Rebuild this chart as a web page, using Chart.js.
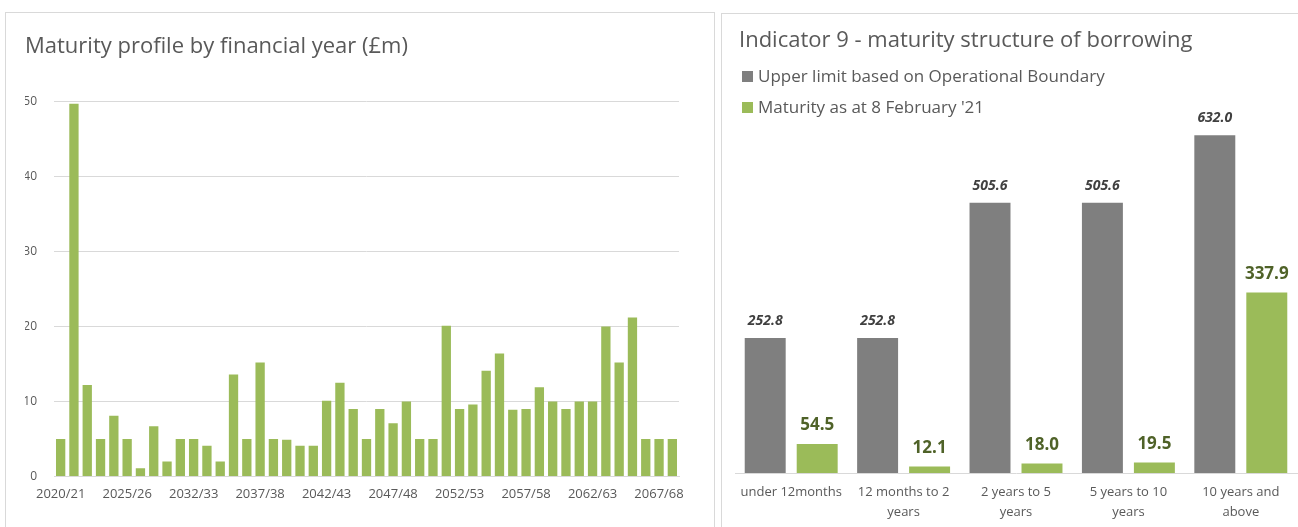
<!DOCTYPE html>
<html>
<head>
<meta charset="utf-8">
<title>Maturity profile and indicator 9</title>
<script src="https://cdn.jsdelivr.net/npm/chart.js@4.4.0/dist/chart.umd.min.js"></script>
<style>
    body { margin: 0; width: 1298px; height: 527px; overflow: hidden; position: relative; background: #fff; font-family: 'Open Sans', sans-serif; }
    .panel { position: absolute; border: 1px solid #d9d9d9; border-bottom: none; box-sizing: border-box; }
    #profilePanel { left: 5px; top: 12px; width: 710px; height: 520px; }
    #indicatorPanel { left: 721px; top: 13px; width: 590px; height: 520px; border-right: none; }
    canvas { position: absolute; }
    #profileChart { left: 6px; top: 13px; }
    #indicatorChart { left: 722px; top: 14px; }
    .chart-title { position: absolute; left: 739px; top: 25px; font-size: 22px; line-height: 26px; color: #595959; white-space: nowrap; }
    .legend-row { position: absolute; left: 742px; font-size: 17px; line-height: 20px; color: #595959; white-space: nowrap; }
    .legend-row span { display: inline-block; width: 11px; height: 11px; margin-right: 5px; }
</style>
</head>
<body>
<div class="panel" id="profilePanel"></div>
<div class="panel" id="indicatorPanel"></div>
<canvas id="profileChart" width="707" height="524"></canvas>
<canvas id="indicatorChart" width="576" height="524"></canvas>
<div class="chart-title">Indicator 9 - maturity structure of borrowing</div>
<div id="legend"></div>
<script>
// ============= data =====================
const years = ['2020/21', '2021/22', '2022/23', '2023/24', '2024/25', '2025/26', '2026/27', '2027/28',
    '2029/30', '2031/32', '2032/33', '2033/34', '2034/35', '2035/36', '2036/37', '2037/38', '2038/39',
    '2039/40', '2040/41', '2041/42', '2042/43', '2043/44', '2044/45', '2045/46', '2046/47', '2047/48',
    '2048/49', '2049/50', '2050/51', '2051/52', '2052/53', '2053/54', '2054/55', '2055/56', '2056/57',
    '2057/58', '2058/59', '2059/60', '2060/61', '2061/62', '2062/63', '2063/64', '2064/65', '2065/66',
    '2066/67', '2067/68', '2068/69'];
const maturityProfile = [5, 49.7, 12.2, 5, 8.1, 5, 1.1, 6.7, 2, 5, 5, 4.1, 2, 13.6, 5, 15.2, 5, 4.9,
    4.1, 4.1, 10.1, 12.5, 9, 5, 9, 7.1, 10, 5, 5, 20.1, 9, 9.6, 14.1, 16.4, 8.9, 9, 11.9, 10, 9, 10, 10,
    20, 15.2, 21.2, 5, 5, 5];
const profileTicks = [0, 10, 20, 30, 40, 50];

const bands = ['under 12months', ['12 months to 2', 'years'], ['2 years to 5', 'years'],
    ['5 years to 10', 'years'], ['10 years and', 'above']];
const upperLimit = [252.8, 252.8, 505.6, 505.6, 632.0];
const maturityFeb21 = [54.5, 12.1, 18.0, 19.5, 337.9];
const seriesNames = ['Upper limit based on Operational Boundary', "Maturity as at 8 February '21"];
// ============= end of data ==============

document.addEventListener('DOMContentLoaded', function () {
    (function () {
        Chart.defaults.font.family = "'Open Sans', sans-serif";

// ============= value labels over the bars =====================
        const valueLabels = {
            id: 'valueLabels',
            afterDatasetsDraw(chart, args, opts) {
                const ctx = chart.ctx;
                chart.data.datasets.forEach((ds, i) => {
                    const style = opts.styles[i];
                    if (!style) return;
                    ctx.save();
                    ctx.font = style.font;
                    ctx.fillStyle = style.color;
                    ctx.textAlign = 'center';
                    ctx.textBaseline = 'middle';
                    chart.getDatasetMeta(i).data.forEach((bar, j) => {
                        ctx.fillText(ds.data[j].toFixed(1), bar.x, bar.y - style.offset);
                    });
                    ctx.restore();
                });
            }
        };

// ============= maturity profile chart =====================
        new Chart(document.getElementById('profileChart'), {
            type: 'bar',
            data: {
                labels: years,
                datasets: [{
                    data: maturityProfile,
                    backgroundColor: '#9bbb59',
                    barPercentage: 0.7,
                    categoryPercentage: 1
                }]
            },
            options: {
                responsive: false,
                animation: false,
                layout: { padding: { left: 19, right: 34, top: 0, bottom: 25 } },
                plugins: {
                    legend: { display: false },
                    tooltip: { enabled: false },
                    title: {
                        display: true,
                        text: 'Maturity profile by financial year (£m)',
                        align: 'start',
                        color: '#595959',
                        font: { size: 22, weight: 'normal' },
                        padding: { top: 21, bottom: 41 }
                    }
                },
                scales: {
                    x: {
                        grid: { display: false, drawTicks: false },
                        border: { color: '#d9d9d9' },
                        ticks: {
                            autoSkip: false,
                            maxRotation: 0,
                            padding: 10,
                            color: '#595959',
                            font: { size: 13 },
                            callback: function (value, index) {
                                return index % 5 === 0 ? this.getLabelForValue(value) : '';
                            }
                        }
                    },
                    y: {
                        min: 0,
                        max: 50,
                        afterBuildTicks: scale => { scale.ticks = profileTicks.map(v => ({ value: v })); },
                        afterFit: scale => { scale.width = 29; },
                        grid: { color: '#d9d9d9', drawTicks: false },
                        border: { display: false },
                        ticks: { padding: 17, color: '#595959', font: { size: 12 } }
                    }
                }
            }
        });
// ============= end of maturity profile ==============

// ============= indicator 9 chart =====================
        const indicator = new Chart(document.getElementById('indicatorChart'), {
            type: 'bar',
            data: {
                labels: bands,
                datasets: [
                    { label: seriesNames[0], data: upperLimit, backgroundColor: '#7f7f7f' },
                    { label: seriesNames[1], data: maturityFeb21, backgroundColor: '#9bbb59' }
                ]
            },
            options: {
                responsive: false,
                animation: false,
                datasets: { bar: { barPercentage: 0.788, categoryPercentage: 0.925 } },
                layout: { padding: { left: 13, right: 1, top: 85, bottom: 6 } },
                plugins: {
                    legend: { display: false },
                    tooltip: { enabled: false },
                    valueLabels: {
                        styles: [
                            { font: "italic bold 14px 'Open Sans'", color: '#404040', offset: 17 },
                            { font: "bold 17px 'Open Sans'", color: '#4f6228', offset: 18.5 }
                        ]
                    }
                },
                scales: {
                    x: {
                        grid: { display: false, drawTicks: false },
                        border: { color: '#d9d9d9' },
                        ticks: {
                            autoSkip: false,
                            maxRotation: 0,
                            padding: 10,
                            color: '#595959',
                            font: { size: 13, lineHeight: 1.5 }
                        }
                    },
                    y: { display: false, min: 0, max: 700 }
                }
            },
            plugins: [valueLabels]
        });

        // legend as html rows, taken from the datasets
        const legend = document.getElementById('legend');
        indicator.data.datasets.forEach((ds, i) => {
            const row = document.createElement('div');
            row.className = 'legend-row';
            row.style.top = (66 + i * 30.5) + 'px';
            const box = document.createElement('span');
            box.style.background = ds.backgroundColor;
            row.appendChild(box);
            row.appendChild(document.createTextNode(ds.label));
            legend.appendChild(row);
        });
// ============= end of indicator 9 ==============
    })(); //end of main function
}); //end of doc event listener
</script>
</body>
</html>
